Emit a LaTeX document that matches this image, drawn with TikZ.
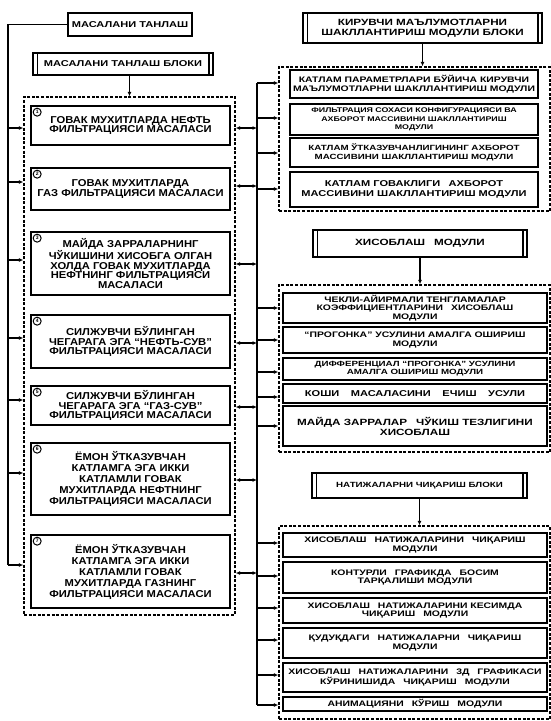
\documentclass[tikz,border=0pt]{standalone}
\usepackage{fontspec}
\setmainfont{Liberation Sans}
\newfontfamily\wf{Liberation Sans}[FakeStretch=1.3]
\newfontfamily\lf{Liberation Sans}[FakeStretch=1.12]
\usetikzlibrary{arrows.meta}
\begin{document}
\begin{tikzpicture}[x=1pt,y=-1pt,
  lbox/.style={draw, line width=1.7pt, align=center, inner sep=0pt, minimum width=199pt,
    font=\lf\bfseries\fontsize{10}{9.8}\selectfont},
  rbox/.style={draw, line width=1.5pt, align=center, inner sep=0pt,
    font=\wf\bfseries\fontsize{8}{8.8}\selectfont},
  gA/.style={rbox, minimum width=248pt},
  gB/.style={rbox, minimum width=264pt},
  blk/.style={draw, line width=1.7pt, align=center, inner sep=0pt,
    font=\wf\bfseries\fontsize{8.5}{10}\selectfont},
  dbox/.style={draw, line width=1.4pt, dash pattern=on 3pt off 1.6pt, inner sep=0pt},
  num/.style={draw, circle, line width=1pt, inner sep=0pt, minimum size=8pt,
    font=\bfseries\fontsize{5}{5}\selectfont},
  ln/.style={line width=1.5pt, line join=miter},
  arr/.style={line width=1.3pt, -{Latex[length=4.5pt,width=4pt]}},
  darr/.style={line width=1.3pt, {Latex[length=4.5pt,width=4pt]}-{Latex[length=4.5pt,width=4pt]}}]
\useasboundingbox (0,0) rectangle (551,721);

% ---------- left column ----------
\node[blk, minimum width=124pt, minimum height=23pt] (T) at (130,24.5) {МАСАЛАНИ ТАНЛАШ};
\node[blk, minimum width=180pt, minimum height=22pt] (BL) at (123,64) {МАСАЛАНИ ТАНЛАШ БЛОКИ};
\node[dbox, minimum width=211pt, minimum height=518pt] (DL) at (129.5,356) {};

\node[lbox, minimum height=39pt] (L1) at (130.5,125.5) {ГОВАК МУХИТЛАРДА НЕФТЬ\\ФИЛЬТРАЦИЯСИ МАСАЛАСИ};
\node[lbox, minimum height=42pt] (L2) at (130.5,189) {ГОВАК МУХИТЛАРДА\\ГАЗ ФИЛЬТРАЦИЯСИ МАСАЛАСИ};
\node[lbox, minimum height=63pt] (L3) at (130.5,263.5) {МАЙДА ЗАРРАЛАРНИНГ\\ЧЎКИШИНИ ХИСОБГА ОЛГАН\\ХОЛДА ГОВАК МУХИТЛАРДА\\НЕФТНИНГ ФИЛЬТРАЦИЯСИ\\МАСАЛАСИ};
\node[lbox, minimum height=53pt] (L4) at (130.5,341.5) {СИЛЖУВЧИ БЎЛИНГАН\\ЧЕГАРАГА ЭГА “НЕФТЬ-СУВ”\\ФИЛЬТРАЦИЯСИ МАСАЛАСИ};
\node[lbox, minimum height=39pt] (L5) at (130.5,405.5) {СИЛЖУВЧИ БЎЛИНГАН\\ЧЕГАРАГА ЭГА “ГАЗ-СУВ”\\ФИЛЬТРАЦИЯСИ МАСАЛАСИ};
\node[lbox, minimum height=72pt, font=\lf\bfseries\fontsize{10}{11}\selectfont] (L6) at (130.5,479) {ЁМОН ЎТКАЗУВЧАН\\КАТЛАМГА ЭГА ИККИ\\КАТЛАМЛИ ГОВАК\\МУХИТЛАРДА НЕФТНИНГ\\ФИЛЬТРАЦИЯСИ МАСАЛАСИ};
\node[lbox, minimum height=73pt, font=\lf\bfseries\fontsize{10}{11}\selectfont] (L7) at (130.5,571.5) {ЁМОН ЎТКАЗУВЧАН\\КАТЛАМГА ЭГА ИККИ\\КАТЛАМЛИ ГОВАК\\МУХИТЛАРДА ГАЗНИНГ\\ФИЛЬТРАЦИЯСИ МАСАЛАСИ};

\foreach \i in {1,...,7} {
  \node[num] (c\i) at ([shift={(7,7)}]L\i.north west) {\i};
}

% double bars of block titles
\foreach \n in {BL,R1,R2,R3} {}
\draw[arr] (BL.south -| DL.north) -- (DL.north);

% left bus
\coordinate (lb0) at (8,24.5);
\coordinate (lbE) at (8,565);
\draw[ln] (T.west) -- (lb0) -- (lbE);
\foreach \y [count=\i] in {128,182,260,338,400,473,565} {
  \coordinate (lb\i) at (8,\y);
  \draw[arr] (lb\i) -- (lb\i -| DL.west);
}

% double arrows to right bus
\foreach \y [count=\i] in {128,186,264,343,407,480,573} {
  \coordinate (rb\i) at (257,\y);
  \draw[darr] (rb\i -| DL.east) -- (rb\i);
}

% ---------- right column ----------
\node[blk, minimum width=239pt, minimum height=30pt, font=\wf\bfseries\fontsize{9}{10}\selectfont] (R1) at (422.5,28) {КИРУВЧИ МАЪЛУМОТЛАРНИ\\ШАКЛЛАНТИРИШ МОДУЛИ БЛОКИ};
\node[dbox, minimum width=271pt, minimum height=144pt] (DR1) at (414.5,139) {};
\node[gA, minimum height=28pt] (M1) at (414,84) {КАТЛАМ ПАРАМЕТРЛАРИ БЎЙИЧА КИРУВЧИ\\МАЪЛУМОТЛАРНИ ШАКЛЛАНТИРИШ МОДУЛИ};
\node[gA, minimum height=31pt, font=\wf\bfseries\fontsize{6.8}{8.3}\selectfont] (M2) at (414,119.5) {ФИЛЬТРАЦИЯ СОХАСИ КОНФИГУРАЦИЯСИ ВА\\АХБОРОТ МАССИВИНИ ШАКЛЛАНТИРИШ\\МОДУЛИ};
\node[gA, minimum height=29pt, font=\wf\bfseries\fontsize{7.5}{8.8}\selectfont] (M3) at (414,152.5) {КАТЛАМ ЎТКАЗУВЧАНЛИГИНИНГ АХБОРОТ\\МАССИВИНИ ШАКЛЛАНТИРИШ МОДУЛИ};
\node[gA, minimum height=35pt, font=\wf\bfseries\fontsize{8.5}{10}\selectfont] (M4) at (414,189.5) {КАТЛАМ ГОВАКЛИГИ\quad АХБОРОТ\\МАССИВИНИ ШАКЛЛАНТИРИШ МОДУЛИ};

\node[blk, minimum width=214pt, minimum height=27pt, font=\wf\bfseries\fontsize{9}{10}\selectfont] (R2) at (420,243.5) {ХИСОБЛАШ\quad МОДУЛИ};
\node[dbox, minimum width=271pt, minimum height=167pt] (DR2) at (414.5,368.5) {};
\node[gB, minimum height=30pt] (N1) at (415,308) {ЧЕКЛИ-АЙИРМАЛИ ТЕНГЛАМАЛАР\\КОЭФФИЦИЕНТЛАРИНИ\quad ХИСОБЛАШ\\МОДУЛИ};
\node[gB, minimum height=26pt] (N2) at (415,340) {“ПРОГОНКА” УСУЛИНИ АМАЛГА ОШИРИШ\\МОДУЛИ};
\node[gB, minimum height=22pt, font=\wf\bfseries\fontsize{7.5}{8}\selectfont] (N3) at (415,369) {ДИФФЕРЕНЦИАЛ “ПРОГОНКА” УСУЛИНИ\\АМАЛГА ОШИРИШ МОДУЛИ};
\node[gB, minimum height=19pt, font=\wf\bfseries\fontsize{8.5}{9}\selectfont] (N4) at (415,393.5) {КОШИ\quad\ МАСАЛАСИНИ\quad\ ЕЧИШ\quad\ УСУЛИ};
\node[gB, minimum height=40pt, font=\wf\bfseries\fontsize{9}{10}\selectfont] (N5) at (415,426) {МАЙДА ЗАРРАЛАР\quad ЧЎКИШ ТЕЗЛИГИНИ\\ХИСОБЛАШ};

\node[blk, minimum width=215pt, minimum height=25pt, font=\wf\bfseries\fontsize{7.5}{9}\selectfont] (R3) at (419.5,485.5) {НАТИЖАЛАРНИ ЧИҚАРИШ БЛОКИ};
\node[dbox, minimum width=271pt, minimum height=193pt] (DR3) at (414.5,622.5) {};
\node[gB, minimum height=24pt] (P1) at (415,545) {ХИСОБЛАШ\quad НАТИЖАЛАРИНИ\quad ЧИҚАРИШ\\МОДУЛИ};
\node[gB, minimum height=31pt] (P2) at (415,577.5) {КОНТУРЛИ\quad ГРАФИКДА\quad БОСИМ\\ТАРҚАЛИШИ МОДУЛИ};
\node[gB, minimum height=25pt] (P3) at (415,610.5) {ХИСОБЛАШ\quad НАТИЖАЛАРИНИ КЕСИМДА\\ЧИҚАРИШ\quad МОДУЛИ};
\node[gB, minimum height=30pt] (P4) at (415,643) {ҚУДУҚДАГИ\quad НАТИЖАЛАРНИ\quad ЧИҚАРИШ\\МОДУЛИ};
\node[gB, minimum height=29pt] (P5) at (415,677.5) {ХИСОБЛАШ\quad НАТИЖАЛАРИНИ\quad 3Д\quad ГРАФИКАСИ\\КЎРИНИШИДА\quad ЧИҚАРИШ\quad МОДУЛИ};
\node[gB, minimum height=14pt] (P6) at (415,704) {АНИМАЦИЯНИ\quad КЎРИШ\quad МОДУЛИ};

% double bars on block titles
\foreach \n in {BL,R1,R2,R3} {
  \draw[line width=1.3pt] ([xshift=5pt]\n.north west) -- ([xshift=5pt]\n.south west);
  \draw[line width=1.3pt] ([xshift=-5pt]\n.north east) -- ([xshift=-5pt]\n.south east);
}

% block -> dashed group arrows
\draw[arr] (R1.south) -- (R1.south |- DR1.north);
\draw[arr] (R2.south) -- (R2.south |- DR2.north);
\draw[arr] (R3.south) -- (R3.south |- DR3.north);

% right bus
\coordinate (rt) at (257,83);
\coordinate (rbot) at (257,705);
\draw[ln] (rt) -- (rbot);
\foreach \y [count=\i] in {83,118,153,189} {
  \coordinate (ga\i) at (257,\y);
  \draw[arr] (ga\i) -- (ga\i -| DR1.west);
}
\foreach \y [count=\i] in {308,340,372,397,426} {
  \coordinate (gb\i) at (257,\y);
  \draw[arr] (gb\i) -- (gb\i -| DR2.west);
}
\foreach \y [count=\i] in {543,576,608,640,675,705} {
  \coordinate (gc\i) at (257,\y);
  \draw[arr] (gc\i) -- (gc\i -| DR3.west);
}
\end{tikzpicture}
\end{document}
